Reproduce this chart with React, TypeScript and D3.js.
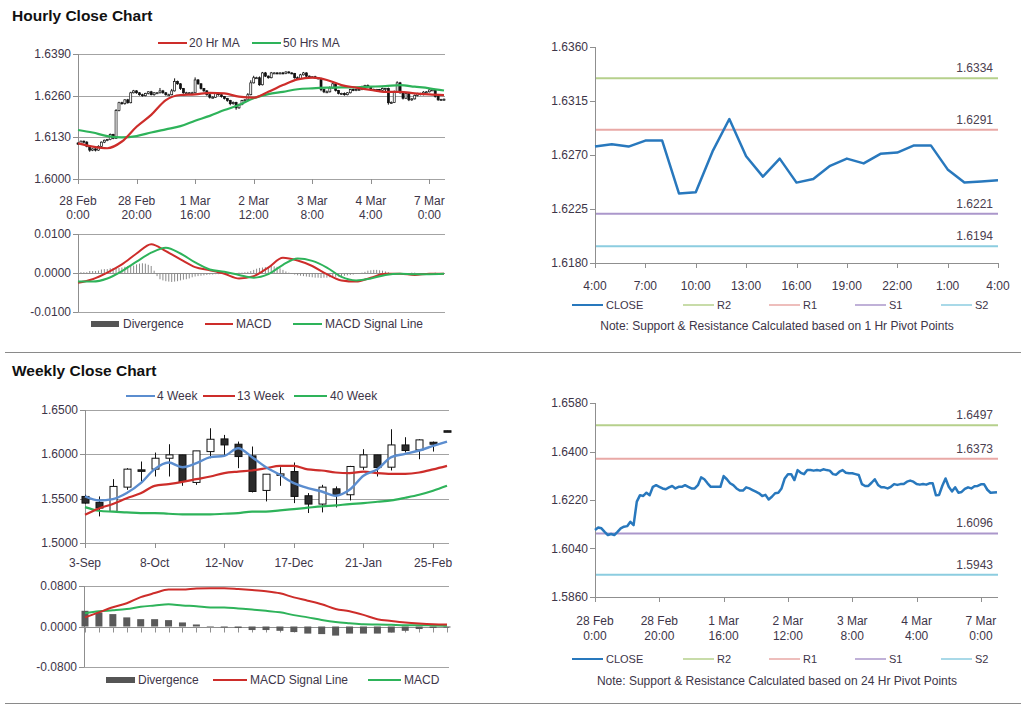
import * as d3 from "d3";
import { useRef, useEffect } from "react";

// ---- hourly data (28 Feb 0:00 .. 7 Mar 4:00) ----
const hourTickIdx = [0, 20, 40, 60, 80, 100, 120];
const hourTickLabels = [
  ["28 Feb", "0:00"],
  ["28 Feb", "20:00"],
  ["1 Mar", "16:00"],
  ["2 Mar", "12:00"],
  ["3 Mar", "8:00"],
  ["4 Mar", "4:00"],
  ["7 Mar", "0:00"],
];

const firstOpen = 1.6112;
const hourlyClose = [
  1.6109, 1.6118, 1.6115, 1.6102, 1.609, 1.6094, 1.609, 1.6102, 1.6115, 1.6121,
  1.6123, 1.6139, 1.6127, 1.6214, 1.6238, 1.6235, 1.6247, 1.6238, 1.6269, 1.6275,
  1.6269, 1.6263, 1.626, 1.6267, 1.6272, 1.6263, 1.6269, 1.6269, 1.6275, 1.6269,
  1.6263, 1.6263, 1.6275, 1.6304, 1.6297, 1.6282, 1.6269, 1.6269, 1.6269, 1.6269,
  1.6309, 1.6297, 1.6282, 1.6275, 1.6263, 1.6255, 1.6255, 1.6267, 1.6263, 1.6257,
  1.6251, 1.6245, 1.6235, 1.6239, 1.6222, 1.6232, 1.6245, 1.6247, 1.6263, 1.63,
  1.6316, 1.6316, 1.6294, 1.6331, 1.6321, 1.6316, 1.6331, 1.6331, 1.6329, 1.6331,
  1.6329, 1.6334, 1.6331, 1.6329, 1.6316, 1.6314, 1.6325, 1.6331, 1.6321, 1.6319,
  1.6319, 1.6316, 1.6313, 1.6279, 1.6272, 1.6272, 1.6284, 1.6297, 1.6276, 1.6267,
  1.6267, 1.6263, 1.6269, 1.6279, 1.6276, 1.6279, 1.6279, 1.6288, 1.6292, 1.6288,
  1.6279, 1.6277, 1.6279, 1.6277, 1.6282, 1.6282, 1.6238, 1.6239, 1.6273, 1.63,
  1.6269, 1.6252, 1.6267, 1.6247, 1.625, 1.6261, 1.6267, 1.6263, 1.6271, 1.6272,
  1.6278, 1.6278, 1.6258, 1.6247, 1.6248, 1.6249,
];
// upper / lower shadows in pips
const wickUp = [
  3, 2, 2, 3, 2, 2, 2, 3, 2, 2, 2, 3, 2, 4, 3, 3, 2, 3, 3, 3,
  2, 2, 3, 2, 2, 3, 2, 2, 9, 3, 2, 3, 6, 10, 3, 2, 2, 3, 2, 3,
  8, 3, 2, 2, 2, 2, 3, 2, 2, 2, 2, 2, 2, 3, 2, 3, 2, 2, 5, 8,
  6, 3, 4, 3, 3, 2, 3, 2, 2, 2, 3, 2, 2, 2, 2, 4, 3, 3, 2, 2,
  2, 3, 2, 3, 2, 4, 5, 3, 2, 2, 2, 3, 2, 2, 3, 2, 3, 3, 2, 3,
  2, 3, 2, 2, 3, 2, 3, 3, 3, 5, 3, 2, 3, 2, 2, 3, 2, 2, 3, 2,
  2, 3, 2, 2, 2, 2,
];
const wickDn = [
  3, 3, 4, 3, 5, 3, 4, 2, 2, 3, 3, 2, 3, 2, 3, 3, 3, 3, 2, 2,
  3, 3, 3, 2, 3, 2, 3, 3, 2, 3, 3, 2, 2, 2, 3, 4, 3, 2, 3, 3,
  2, 3, 3, 3, 3, 4, 3, 2, 3, 3, 3, 4, 5, 3, 6, 3, 2, 3, 2, 2,
  2, 3, 3, 2, 3, 3, 2, 2, 2, 2, 2, 2, 2, 2, 3, 2, 2, 2, 3, 2,
  2, 2, 3, 5, 4, 3, 2, 2, 3, 3, 4, 3, 2, 2, 2, 2, 2, 2, 2, 2,
  3, 2, 2, 2, 3, 8, 6, 3, 2, 3, 3, 4, 2, 4, 3, 2, 3, 2, 2, 2,
  2, 3, 4, 3, 3, 4,
];

// moving averages / MACD sampled every 5 hours
const sampleIdx = [
  0, 5, 10, 15, 20, 25, 30, 35, 40, 45, 50, 55, 60, 65, 70, 75, 80, 85, 90, 95,
  100, 105, 110, 115, 120, 125,
];
const ma20 = [
  1.6111, 1.6101, 1.6096, 1.6117, 1.6163, 1.62, 1.6246, 1.6262, 1.6264, 1.6269,
  1.6267, 1.6257, 1.6254, 1.6272, 1.6293, 1.6311, 1.6316, 1.6309, 1.6293, 1.6285,
  1.6278, 1.6272, 1.6272, 1.6267, 1.6264, 1.6262,
];
const ma50 = [
  1.6153, 1.6145, 1.6134, 1.613, 1.6134, 1.6145, 1.6155, 1.6165, 1.6182, 1.6197,
  1.6215, 1.6231, 1.6252, 1.6265, 1.6272, 1.628, 1.6283, 1.6285, 1.6286, 1.6286,
  1.6288, 1.629, 1.6293, 1.6288, 1.6283, 1.6276,
];
const macdHourly = [
  -0.0025, -0.0016, 0.0001, 0.0022, 0.005, 0.0074, 0.0056, 0.0035, 0.0015, 0.0007,
  -0.0002, -0.0014, -0.0008, 0.0014, 0.0039, 0.0032, 0.0018, -0.0003, -0.0019, -0.0022,
  -0.0012, -0.0002, -0.0002, -0.0005, -0.0002, -0.0002,
];
const signalHourly = [
  -0.0022, -0.0022, -0.0014, 0.0005, 0.0029, 0.0052, 0.0065, 0.005, 0.0027, 0.0009,
  0.0003, -0.0005, -0.0012, -0.0003, 0.0021, 0.0037, 0.0031, 0.0014, -0.001, -0.0019,
  -0.0014, -0.0005, -0.0002, -0.0003, -0.0003, -0.0002,
];
const divergenceHourly = [
  0, 0.0002, 0.0002, 0.0002, 0.0005, 0.0005, 0.0005, 0.0006, 0.0009, 0.001,
  0.001, 0.0012, 0.0013, 0.0013, 0.0013, 0.0014, 0.0016, 0.0018, 0.0018, 0.0019,
  0.0022, 0.0024, 0.0025, 0.0024, 0.0021, 0.0018, 0.0006, -0.0008, -0.0016, -0.0019,
  -0.0021, -0.0022, -0.0023, -0.0022, -0.0021, -0.0019, -0.0017, -0.0016, -0.0014, -0.0011,
  -0.0009, -0.0008, -0.0007, -0.0006, -0.0005, -0.0004, -0.0004, -0.0003, -0.0003, -0.0002,
  -0.0002, -0.0002, -0.0001, -0.0001, 0, 0.0001, 0.0001, 0.0002, 0.0003, 0.0005,
  0.0008, 0.0011, 0.0013, 0.0014, 0.0015, 0.0016, 0.0018, 0.0017, 0.0016, 0.0012,
  0.0008, 0.0004, 0.0001, -0.0002, -0.0004, -0.0006, -0.0007, -0.0008, -0.0009, -0.001,
  -0.0011, -0.0012, -0.0012, -0.0013, -0.0012, -0.0012, -0.0011, -0.001, -0.001, -0.0009,
  -0.0008, -0.0007, -0.0006, -0.0005, -0.0004, -0.0002, -0.0001, 0.0001, 0.0003, 0.0006,
  0.0007, 0.0008, 0.0008, 0.0007, 0.0006, 0.0004, 0.0002, 0, -0.0001, -0.0002,
  -0.0002, -0.0002, -0.0001, 0, 0.0001, 0.0001, 0, -0.0001, -0.0002, -0.0002,
  -0.0001, 0, 0.0001, 0, -0.0001, 0,
];

// last 24 hours close
const lastDayLabels = ["4:00", "7:00", "10:00", "13:00", "16:00", "19:00", "22:00", "1:00", "4:00"];
const lastDayClose = hourlyClose.slice(hourlyClose.length - 25);

const pivotNames = ["R2", "R1", "S1", "S2"];
const pivotColors = ["#b6d08c", "#e9a9a6", "#ab97cb", "#8ccde0"];
const pivot1h = [1.6334, 1.6291, 1.6221, 1.6194];
const pivot24h = [1.6497, 1.6373, 1.6096, 1.5943];

// ---- weekly data (3-Sep .. 4-Mar) ----
const weekTickIdx = [0, 5, 10, 15, 20, 25];
const weekTickLabels = ["3-Sep", "8-Oct", "12-Nov", "17-Dec", "21-Jan", "25-Feb"];
const weeklyOpen = [
  1.5525, 1.5458, 1.5356, 1.563, 1.5825, 1.5833, 1.5956, 1.5994, 1.5683, 1.6031,
  1.6174, 1.6114, 1.5983, 1.5593, 1.5776, 1.5806, 1.5533, 1.5439, 1.5611, 1.5544,
  1.5855, 1.5994, 1.5855, 1.6106, 1.605, 1.6136, 1.6266,
];
const weeklyHigh = [
  1.5544, 1.5525, 1.572, 1.5844, 1.5919, 1.602, 1.6114, 1.5994, 1.6039, 1.6294,
  1.6219, 1.6144, 1.6088, 1.5776, 1.5855, 1.5908, 1.5563, 1.5656, 1.5638, 1.587,
  1.6058, 1.5994, 1.6283, 1.6193, 1.617, 1.6144, 1.6266,
];
const weeklyLow = [
  1.5443, 1.53, 1.5356, 1.56, 1.5683, 1.575, 1.575, 1.5645, 1.5656, 1.5956,
  1.598, 1.5844, 1.557, 1.5469, 1.5645, 1.545, 1.5338, 1.5345, 1.5401, 1.548,
  1.5825, 1.575, 1.5818, 1.602, 1.5945, 1.6031, 1.6262,
];
const weeklyClose = [
  1.545, 1.5394, 1.5638, 1.5833, 1.5822, 1.5956, 1.5994, 1.5694, 1.6039, 1.617,
  1.6106, 1.5975, 1.5581, 1.5776, 1.578, 1.5525, 1.5439, 1.563, 1.5544, 1.5863,
  1.5994, 1.5851, 1.6106, 1.6043, 1.6163, 1.6114, 1.6262,
];
const ma4w = [
  1.5525, 1.548, 1.5495, 1.5563, 1.5675, 1.5833, 1.5908, 1.5855, 1.59, 1.5968,
  1.5983, 1.6069, 1.5968, 1.5855, 1.5769, 1.5675, 1.5619, 1.5581, 1.5533, 1.56,
  1.5758, 1.5833, 1.5968, 1.6005, 1.6043, 1.6095, 1.6144,
];
const ma13w = [
  1.5318, 1.539, 1.544, 1.5505, 1.556, 1.5645, 1.5665, 1.569, 1.572, 1.575,
  1.5788, 1.5805, 1.5818, 1.5843, 1.587, 1.587, 1.583, 1.5818, 1.5795, 1.5788,
  1.5805, 1.5788, 1.578, 1.578, 1.5795, 1.583, 1.587,
];
const ma40w = [
  1.5405, 1.5364, 1.5353, 1.5345, 1.5338, 1.5338, 1.533, 1.5323, 1.5323, 1.5323,
  1.533, 1.5338, 1.5353, 1.5353, 1.5368, 1.5383, 1.5398, 1.5413, 1.5424, 1.5439,
  1.545, 1.5465, 1.548, 1.551, 1.5544, 1.5589, 1.5645,
];
const divergenceWeekly = [
  0.031, 0.0278, 0.0245, 0.018, 0.0145, 0.0145, 0.0126, 0.008, 0.004, 0.001,
  -0.002, -0.003, -0.007, -0.007, -0.0085, -0.011, -0.014, -0.015, -0.018, -0.014,
  -0.014, -0.014, -0.012, -0.0085, -0.005, -0.003, -0.002,
];
const signalWeekly = [
  0.018, 0.028, 0.038, 0.046, 0.058, 0.066, 0.073, 0.073, 0.075, 0.0755,
  0.0755, 0.074, 0.072, 0.0695, 0.0655, 0.0575, 0.051, 0.044, 0.0345, 0.03,
  0.023, 0.0145, 0.011, 0.008, 0.006, 0.0046, 0.004,
];
const macdWeekly = [
  0.026, 0.03, 0.032, 0.0345, 0.039, 0.0415, 0.044, 0.0415, 0.04, 0.0375,
  0.0375, 0.0355, 0.0335, 0.031, 0.028, 0.0225, 0.018, 0.013, 0.009, 0.0066,
  0.0046, 0.004, 0.0033, 0.0026, 0.0026, 0.002, 0.0013,
];

const FONT = "'Liberation Sans', Arial, sans-serif";
const TXT = "#3d3548";
const GRID = "#a3a3a3";
const AXIS = "#8f8f8f";
const RED = "#cd2d2a";
const GREEN = "#2eb35a";
const BLUE = "#5b8dcf";
const CLOSE_BLUE = "#2878bd";

type G = d3.Selection<SVGGElement, unknown, null, undefined>;

function hline(g: G, x0: number, x1: number, y: number, color: string, w = 1) {
  g.append("line").attr("x1", x0).attr("x2", x1).attr("y1", y).attr("y2", y)
    .attr("stroke", color).attr("stroke-width", w);
}
function vline(g: G, x: number, y0: number, y1: number, color: string, w = 1) {
  g.append("line").attr("x1", x).attr("x2", x).attr("y1", y0).attr("y2", y1)
    .attr("stroke", color).attr("stroke-width", w);
}
function text(g: G, x: number, y: number, s: string, anchor = "start", size = 12, color = TXT) {
  g.append("text").attr("x", x).attr("y", y).attr("text-anchor", anchor)
    .attr("font-family", FONT).attr("font-size", size).attr("fill", color).text(s);
}
function yLabels(g: G, y: d3.ScaleLinear<number, number>, ticks: number[], xAxis: number, fmt: (v: number) => string) {
  ticks.forEach((v) => {
    hline(g, xAxis - 5, xAxis, Math.round(y(v)) + 0.5, AXIS);
    text(g, xAxis - 7, y(v) + 4, fmt(v), "end");
  });
}
// plain hyphen for negatives, as in the original spreadsheet chart
const f4 = (v: number) => d3.format(".4f")(v).replace("\u2212", "-");

export default function App() {
  const ref = useRef<SVGSVGElement>(null);

  useEffect(() => {
    if (!ref.current) return;
    const root = d3.select(ref.current);
    root.selectAll("*").remove();
    const g = root.append("g") as unknown as G;

    // titles and separators
    g.append("text").attr("x", 12).attr("y", 21).attr("font-family", FONT)
      .attr("font-size", 15.5).attr("font-weight", "bold").attr("fill", "#111").text("Hourly Close Chart");
    g.append("text").attr("x", 12).attr("y", 376).attr("font-family", FONT)
      .attr("font-size", 15.5).attr("font-weight", "bold").attr("fill", "#111").text("Weekly Close Chart");
    hline(g, 5, 1021, 352.5, "#8a8a8a");
    hline(g, 5, 1021, 703.5, "#8a8a8a");

    // ============ hourly candles ============
    {
      const x = d3.scaleLinear().domain([0, 125]).range([78, 444]);
      const y = d3.scaleLinear().domain([1.6, 1.639]).range([179, 54]);
      const yt = [1.6, 1.613, 1.626, 1.639];
      yt.forEach((v) => hline(g, 78, 445, Math.round(y(v)) + 0.5, GRID));
      vline(g, 78.5, 54, 179, AXIS);
      yLabels(g, y, yt, 78, f4);
      hourTickIdx.forEach((t, k) => {
        vline(g, Math.round(x(t)) + 0.5, 179, 184, AXIS);
        text(g, x(t), 205, hourTickLabels[k][0], "middle");
        text(g, x(t), 219, hourTickLabels[k][1], "middle");
      });
      const candles = g.append("g");
      hourlyClose.forEach((c, i) => {
        const o = i === 0 ? firstOpen : hourlyClose[i - 1];
        const hi = Math.max(o, c) + wickUp[i] * 0.0001;
        const lo = Math.min(o, c) - wickDn[i] * 0.0001;
        const cx = x(i);
        vline(candles as G, cx, y(hi), y(lo), "#111", 1);
        const top = y(Math.max(o, c));
        const h = Math.max(1, y(Math.min(o, c)) - top);
        candles.append("rect").attr("x", cx - 1).attr("y", top).attr("width", 2).attr("height", h)
          .attr("fill", c >= o ? "#fff" : "#111").attr("stroke", "#111").attr("stroke-width", 0.7);
      });
      const line = d3.line<number>().x((_, k) => x(sampleIdx[k])).y((d) => y(d)).curve(d3.curveMonotoneX);
      g.append("path").datum(ma50).attr("d", line).attr("fill", "none").attr("stroke", GREEN).attr("stroke-width", 2.2);
      g.append("path").datum(ma20).attr("d", line).attr("fill", "none").attr("stroke", RED).attr("stroke-width", 2.2);
      // legend
      hline(g, 158, 187, 43, RED, 2);
      text(g, 189, 47, "20 Hr MA");
      hline(g, 252, 281, 43, GREEN, 2);
      text(g, 283, 47, "50 Hrs MA");
    }

    // ============ hourly MACD ============
    {
      const x = d3.scaleLinear().domain([0, 125]).range([78, 444]);
      const y = d3.scaleLinear().domain([-0.01, 0.01]).range([312, 234]);
      hline(g, 78, 445, 234.5, GRID);
      hline(g, 78, 445, 312.5, GRID);
      hline(g, 78, 445, Math.round(y(0)) + 0.5, AXIS);
      vline(g, 78.5, 234, 312, AXIS);
      yLabels(g, y, [-0.01, 0, 0.01], 78, f4);
      divergenceHourly.forEach((d, i) => {
        vline(g, x(i), y(0), y(d), "#8a8a8a", 1);
      });
      const line = d3.line<number>().x((_, k) => x(sampleIdx[k])).y((d) => y(d)).curve(d3.curveMonotoneX);
      g.append("path").datum(macdHourly).attr("d", line).attr("fill", "none").attr("stroke", RED).attr("stroke-width", 2);
      g.append("path").datum(signalHourly).attr("d", line).attr("fill", "none").attr("stroke", GREEN).attr("stroke-width", 2);
      g.append("rect").attr("x", 91).attr("y", 321).attr("width", 28).attr("height", 6).attr("fill", "#555");
      text(g, 123, 328, "Divergence");
      hline(g, 205, 233, 324, RED, 2);
      text(g, 236, 328, "MACD");
      hline(g, 293, 322, 324, GREEN, 2);
      text(g, 325, 328, "MACD  Signal Line");
    }

    // ============ pivot panels ============
    const pivotPanel = (
      values: number[], labels: (string | string[])[], tickIdx: number[], xMax: number,
      pivots: number[], yDomain: [number, number], yRange: [number, number], yTicks: number[],
      xRange: [number, number], labelY: number[], legendY: number, note: string, noteY: number,
    ) => {
      const x = d3.scaleLinear().domain([0, xMax]).range(xRange);
      const y = d3.scaleLinear().domain(yDomain).range(yRange);
      const yb = yRange[0];
      vline(g, 595.5, yRange[1], yb, AXIS);
      hline(g, 595, 998, yb + 0.5, AXIS);
      yLabels(g, y, yTicks, 595, f4);
      tickIdx.forEach((t, k) => {
        const px = Math.round(x(t)) + 0.5;
        vline(g, px, yb, yb + 5, AXIS);
        const l = labels[k];
        if (Array.isArray(l)) {
          text(g, x(t), labelY[0], l[0], "middle");
          text(g, x(t), labelY[1], l[1], "middle");
        } else {
          text(g, x(t), labelY[0], l, "middle");
        }
      });
      pivots.forEach((p, k) => {
        hline(g, 596, 998, y(p), pivotColors[k], 2);
        text(g, 993, y(p) - 6, f4(p), "end", 12, "#4a4050");
      });
      const line = d3.line<number>().x((_, i) => x(i)).y((d) => y(d));
      g.append("path").datum(values).attr("d", line).attr("fill", "none")
        .attr("stroke", CLOSE_BLUE).attr("stroke-width", 2.5).attr("stroke-linejoin", "round");
      // legend
      const lx = [572, 683, 769, 855, 941];
      const names = ["CLOSE", ...pivotNames];
      const cols = [CLOSE_BLUE, ...pivotColors];
      names.forEach((n, k) => {
        hline(g, lx[k], lx[k] + 31, legendY, cols[k], k === 0 ? 2 : 1.5);
        text(g, lx[k] + 34, legendY + 4, n, "start", 11);
      });
      text(g, 777, noteY, note, "middle", 12);
    };

    pivotPanel(
      lastDayClose, lastDayLabels, [0, 3, 6, 9, 12, 15, 18, 21, 24], 24,
      pivot1h, [1.618, 1.636], [263, 47], [1.618, 1.6225, 1.627, 1.6315, 1.636],
      [595, 998], [290], 305, "Note: Support & Resistance Calculated based on 1 Hr Pivot Points", 330,
    );
    pivotPanel(
      hourlyClose, hourTickLabels, hourTickIdx, 125,
      pivot24h, [1.586, 1.658], [597, 403], [1.586, 1.604, 1.622, 1.64, 1.658],
      [595, 997], [625, 640], 659, "Note: Support & Resistance Calculated based on 24 Hr Pivot Points", 685,
    );

    // ============ weekly candles ============
    {
      const x = d3.scaleLinear().domain([0, 26]).range([85, 447]);
      const y = d3.scaleLinear().domain([1.5, 1.65]).range([543, 410]);
      const yt = [1.5, 1.55, 1.6, 1.65];
      yt.forEach((v) => hline(g, 85, 449, Math.round(y(v)) + 0.5, GRID));
      vline(g, 85.5, 410, 543, AXIS);
      yLabels(g, y, yt, 85, f4);
      weekTickIdx.forEach((t, k) => {
        vline(g, Math.round(x(t)) + 0.5, 543, 548, AXIS);
        text(g, x(t), 567, weekTickLabels[k], "middle");
      });
      weeklyClose.forEach((c, i) => {
        const o = weeklyOpen[i];
        const cx = Math.round(x(i)) + 0.5;
        vline(g, cx, y(weeklyHigh[i]), y(weeklyLow[i]), "#111", 1);
        const top = y(Math.max(o, c));
        const h = Math.max(1.5, y(Math.min(o, c)) - top);
        g.append("rect").attr("x", cx - 3.5).attr("y", top).attr("width", 7).attr("height", h)
          .attr("fill", c > o ? "#fff" : "#2b2b2b").attr("stroke", "#111").attr("stroke-width", 1);
      });
      const line = d3.line<number>().x((_, i) => x(i)).y((d) => y(d)).curve(d3.curveMonotoneX);
      g.append("path").datum(ma40w).attr("d", line).attr("fill", "none").attr("stroke", GREEN).attr("stroke-width", 2.2);
      g.append("path").datum(ma13w).attr("d", line).attr("fill", "none").attr("stroke", RED).attr("stroke-width", 2.2);
      g.append("path").datum(ma4w).attr("d", line).attr("fill", "none").attr("stroke", BLUE).attr("stroke-width", 2.4);
      hline(g, 126, 155, 396, BLUE, 2);
      text(g, 157, 400, "4 Week");
      hline(g, 203, 235, 396, RED, 2);
      text(g, 237, 400, "13 Week");
      hline(g, 294, 327, 396, GREEN, 2);
      text(g, 330, 400, "40 Week");
    }

    // ============ weekly MACD ============
    {
      const x = d3.scaleLinear().domain([0, 26]).range([85, 447]);
      const y = d3.scaleLinear().domain([-0.08, 0.08]).range([667, 586]);
      hline(g, 84, 449, 586.5, GRID);
      hline(g, 84, 449, 667.5, GRID);
      const y0 = Math.round(y(0)) + 0.5;
      hline(g, 84, 449, y0, AXIS);
      vline(g, 84.5, 586, 667, AXIS);
      yLabels(g, y, [-0.08, 0, 0.08], 84, f4);
      divergenceWeekly.forEach((d, i) => {
        const cx = x(i);
        vline(g, Math.round(cx) + 0.5, y0, y0 + 5, AXIS);
        g.append("rect").attr("x", cx - 3.5).attr("y", Math.min(y(d), y(0)))
          .attr("width", 7).attr("height", Math.abs(y(d) - y(0))).attr("fill", "#5a5a5a");
      });
      const line = d3.line<number>().x((_, i) => x(i)).y((d) => y(d)).curve(d3.curveMonotoneX);
      g.append("path").datum(macdWeekly).attr("d", line).attr("fill", "none").attr("stroke", GREEN).attr("stroke-width", 2);
      g.append("path").datum(signalWeekly).attr("d", line).attr("fill", "none").attr("stroke", RED).attr("stroke-width", 2);
      g.append("rect").attr("x", 106).attr("y", 677).attr("width", 29).attr("height", 6).attr("fill", "#555");
      text(g, 138, 684, "Divergence");
      hline(g, 213, 247, 680, RED, 2);
      text(g, 250, 684, "MACD  Signal Line");
      hline(g, 368, 401, 680, GREEN, 2);
      text(g, 404, 684, "MACD");
    }
  }, []);

  return (
    <svg
      ref={ref}
      width={1024}
      height={706}
      style={{ position: "absolute", left: 0, top: 0, background: "#fff" }}
    />
  );
}
